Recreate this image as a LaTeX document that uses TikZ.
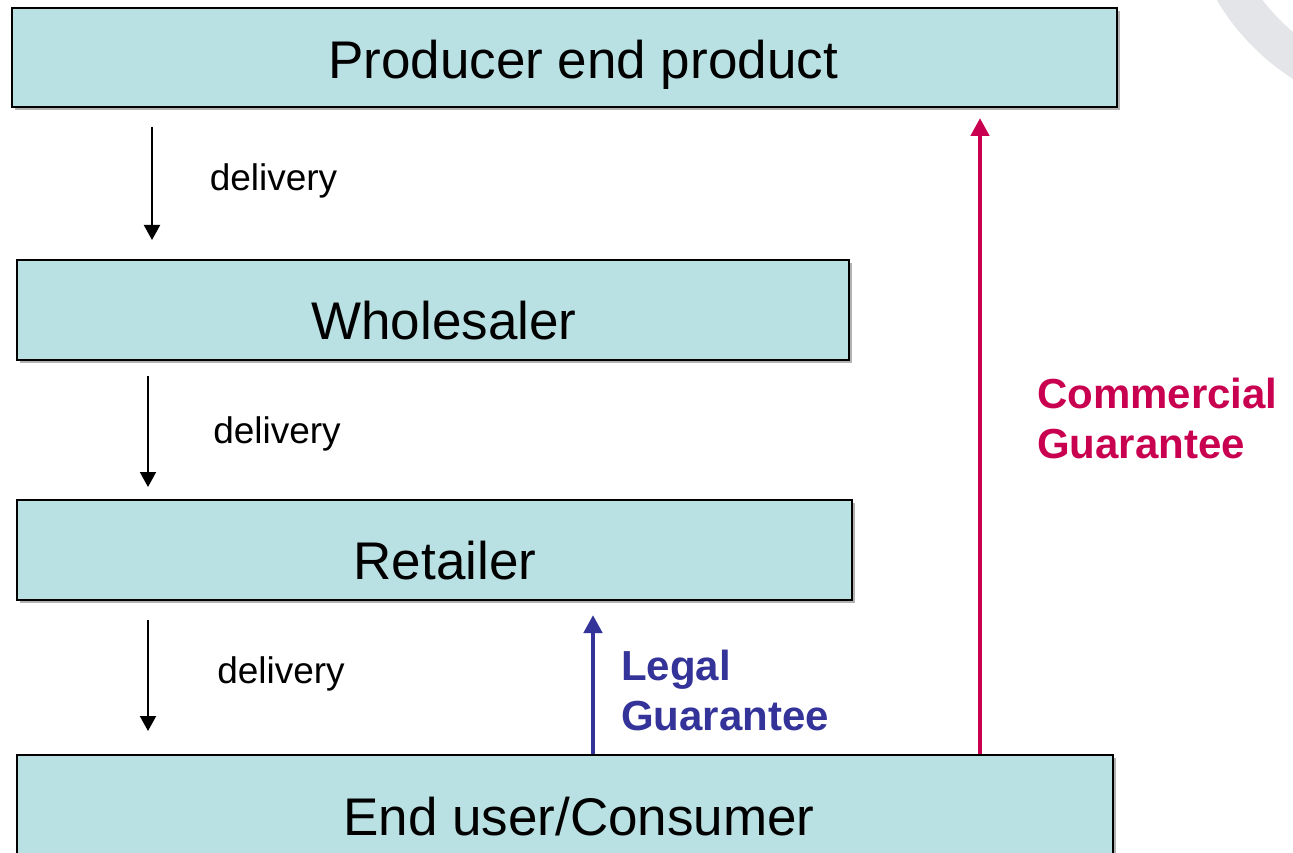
\documentclass[tikz,border=0pt]{standalone}
\usepackage{fontspec}
\setmainfont{Liberation Sans}
\usetikzlibrary{arrows.meta,shadows}
\definecolor{boxfill}{HTML}{B9E0E3}
\definecolor{legal}{HTML}{333399}
\definecolor{commercial}{HTML}{C8004F}
\definecolor{arcgray}{HTML}{E4E5E8}
\tikzset{
  stage/.style={draw=black, line width=2.5pt, fill=boxfill, inner sep=0pt,
    drop shadow={shadow xshift=3pt, shadow yshift=-3pt, fill=black!30, opacity=1}},
  stagetxt/.style={anchor=base, inner sep=0pt, font=\fontsize{53}{60}\selectfont},
  deliv/.style={draw=black, line width=2pt, -{Triangle[width=16pt,length=15pt]}},
  delivtxt/.style={anchor=base, inner sep=0pt, font=\fontsize{37}{44}\selectfont},
  guar/.style={line width=4.5pt, -{Triangle[width=18pt,length=18pt]}},
  guartxt/.style={anchor=base west, inner sep=0pt, align=left,
    font=\bfseries\fontsize{42}{50}\selectfont}
}

\begin{document}
\begin{tikzpicture}[x=1pt, y=-1pt]
    \useasboundingbox (0,0) rectangle (1293,853);

    % background arc, top right
    \begin{scope}
        \clip (0,0) rectangle (1293,853);
        \draw[arcgray, line width=38pt] (1420,-120) circle[radius=217pt];
    \end{scope}

    % --- STAGES ---
    \node[stage, minimum width=1105pt, minimum height=99pt] (prod) at (564.5,57.5) {};
    \node[stagetxt] (prod-t) at (583,79) {Producer end product};

    \node[stage, minimum width=832pt, minimum height=100pt] (whole) at (433,310) {};
    \node[stagetxt] (whole-t) at (444,339) {Wholesaler};

    \node[stage, minimum width=835pt, minimum height=100pt] (retail) at (434.5,550) {};
    \node[stagetxt] (retail-t) at (445,579) {Retailer};

    \node[stage, minimum width=1096pt, minimum height=100pt] (cons) at (565,805) {};
    \node[stagetxt] (cons-t) at (579,835) {End user/Consumer};

    % --- DELIVERY ---
    \coordinate (d1-a) at (152,127);
    \coordinate (d1-b) at (152,240);
    \draw[deliv] (d1-a) -- (d1-b);
    \node[delivtxt] (d1-t) at (273.5,191) {delivery};

    \coordinate (d2-a) at (148,376);
    \coordinate (d2-b) at (148,487);
    \draw[deliv] (d2-a) -- (d2-b);
    \node[delivtxt] (d2-t) at (277,443) {delivery};

    \coordinate (d3-a) at (148,620);
    \coordinate (d3-b) at (148,731);
    \draw[deliv] (d3-a) -- (d3-b);
    \node[delivtxt] (d3-t) at (281,683) {delivery};

    % --- GUARANTEES ---
    \coordinate (lg-tip) at (593,615);
    \draw[guar, legal] (lg-tip |- cons.north) -- (lg-tip);
    \node[guartxt, text=legal] (lg-t) at (621,730) {Legal\\Guarantee};

    \coordinate (cg-tip) at (980,118);
    \draw[guar, commercial] (cg-tip |- cons.north) -- (cg-tip);
    \node[guartxt, text=commercial] (cg-t) at (1037,458) {Commercial\\Guarantee};
\end{tikzpicture}
\end{document}
